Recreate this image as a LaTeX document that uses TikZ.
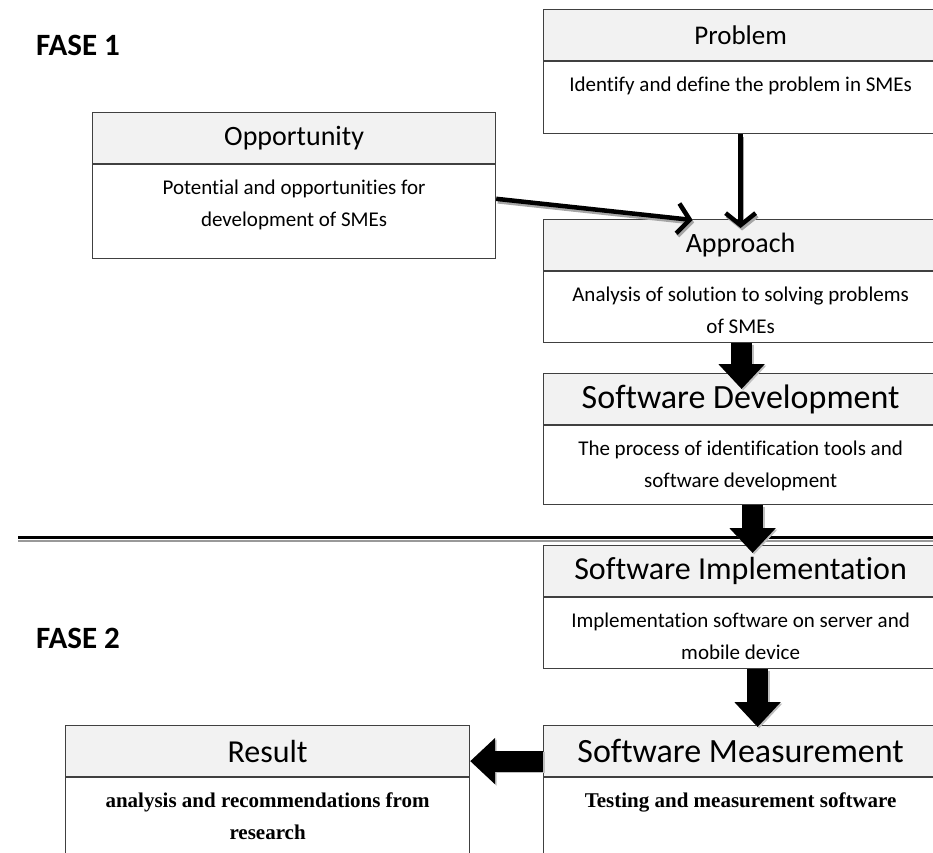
\documentclass[tikz,border=0pt]{standalone}
\usepackage{fontspec}
\setmainfont{Carlito}[Ligatures=CommonOff]
\newfontfamily\timesfont{Liberation Serif}
\usetikzlibrary{arrows.meta}

\newcommand{\hfont}[1]{\fontsize{#1}{#1}\selectfont}
\newcommand{\bodytext}[3]{\parbox[t][#1][t]{#2}{\centering\rule{0pt}{30pt}#3}}

\tikzset{
  boxhead/.style={draw=black!75, line width=1.2pt, fill=black!5, minimum height=51pt, inner sep=0pt, anchor=north west},
  boxbody/.style={draw=black!75, line width=1.2pt, fill=white, inner sep=0pt, anchor=north, font=\fontsize{21}{32}\selectfont},
  phase/.style={font=\bfseries\hfont{31}},
  linkarrow/.style={line width=4.5pt, -{Straight Barb[length=12pt,width=30pt]}},
  linkshadow/.style={linkarrow, draw=black!35, transform canvas={xshift=1.5pt,yshift=-2.5pt}},
  blockarrow/.style={line width=21pt, -{Triangle[width=45pt,length=25pt]}},
  blockshadow/.style={blockarrow, draw=black!25, transform canvas={xshift=1.5pt,yshift=-1.5pt}}
}

\begin{document}
\begin{tikzpicture}[x=1pt,y=-1pt]
\useasboundingbox (0,0) rectangle (933,852);
\clip (0,0) rectangle (933,852);

% phase labels
\node[phase] (fase1) at (78,45) {FASE 1};
\node[phase] (fase2) at (78,638) {FASE 2};

% boxes, fase 1
\node[boxhead, minimum width=394pt, font=\hfont{27}] (probH) at (543,9) {Problem};
\node[boxbody] (probB) at (probH.south) {\bodytext{72pt}{394pt}{Identify and define the problem in SMEs}};

\node[boxhead, minimum width=403pt, font=\hfont{28}] (oppH) at (92,112) {Opportunity};
\node[boxbody] (oppB) at (oppH.south) {\bodytext{94pt}{403pt}{Potential and opportunities for\\ development of SMEs}};

\node[boxhead, minimum width=394pt, font=\hfont{28}] (appH) at (543,219) {Approach};
\node[boxbody] (appB) at (appH.south) {\bodytext{71pt}{394pt}{Analysis of solution to solving problems\\ of SMEs}};

\node[boxhead, minimum width=394pt, font=\hfont{34}] (sdH) at (543,373) {Software Development};
\node[boxbody] (sdB) at (sdH.south) {\bodytext{79pt}{394pt}{The process of identification tools and\\ software development}};

% divider
\coordinate (divL) at (18,537);
\coordinate (divR) at (945,537);
\draw[black!40, line width=2pt] ([yshift=-4pt]divL) -- ([yshift=-4pt]divR);
\draw[line width=3pt] (divL) -- (divR);

% boxes, fase 2
\node[boxhead, minimum width=394pt, font=\hfont{32}] (siH) at (543,545) {Software Implementation};
\node[boxbody] (siB) at (siH.south) {\bodytext{71pt}{394pt}{Implementation software on server and\\ mobile device}};

\node[boxhead, minimum width=394pt, font=\hfont{34}] (smH) at (543,725) {Software Measurement};
\node[boxbody] (smB) at (smH.south) {\bodytext{100pt}{394pt}{{\timesfont\bfseries Testing and measurement software}}};

\node[boxhead, minimum width=404pt, font=\hfont{32}] (resH) at (65,725) {Result};
\node[boxbody] (resB) at (resH.south) {\bodytext{100pt}{404pt}{{\timesfont\bfseries analysis and recommendations from\\ research}}};

% thin arrows into Approach
\coordinate (oppOut) at ([yshift=13pt]oppB.east);
\coordinate (appIn) at ([xshift=-48pt,yshift=-1pt]appH.north);
\draw[linkshadow] (oppOut) -- (appIn);
\draw[linkarrow] (oppOut) -- (appIn);
\draw[linkshadow] (probB.south) -- ([yshift=-9pt]appH.north);
\draw[linkarrow] (probB.south) -- ([yshift=-9pt]appH.north);

% block arrows
\draw[blockshadow] ([xshift=1pt]appB.south) -- ([xshift=1pt,yshift=-16pt]sdH.north);
\draw[blockarrow] ([xshift=1pt]appB.south) -- ([xshift=1pt,yshift=-16pt]sdH.north);
\draw[blockshadow] ([xshift=12pt]sdB.south) -- ([xshift=12pt,yshift=-8pt]siH.north);
\draw[blockarrow] ([xshift=12pt]sdB.south) -- ([xshift=12pt,yshift=-8pt]siH.north);
\draw[blockshadow] ([xshift=17pt]siB.south) -- ([xshift=17pt,yshift=-2pt]smH.north);
\draw[blockarrow] ([xshift=17pt]siB.south) -- ([xshift=17pt,yshift=-2pt]smH.north);
\draw[blockshadow] ([yshift=-10pt]smH.west) -- ([yshift=-10pt]resH.east);
\draw[blockarrow] ([yshift=-10pt]smH.west) -- ([yshift=-10pt]resH.east);

\end{tikzpicture}
\end{document}
